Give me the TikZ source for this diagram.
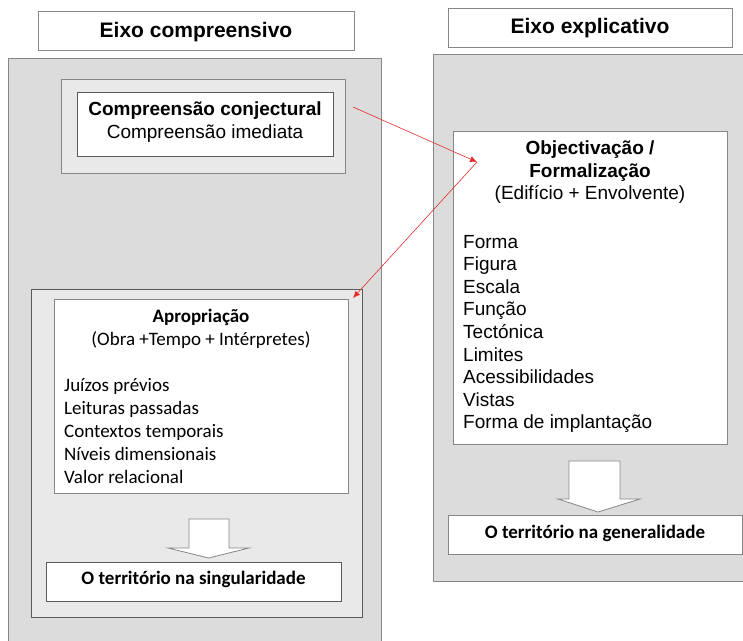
\documentclass[tikz,border=0pt]{standalone}
\usepackage{fontspec}
\setmainfont{Liberation Sans}
\newfontfamily\calib{Carlito}
\usetikzlibrary{arrows.meta}
\definecolor{panelgray}{RGB}{220,220,220}
\definecolor{lightbox}{RGB}{233,233,233}
\definecolor{bordergray}{RGB}{135,135,135}
\definecolor{darkborder}{RGB}{90,90,90}
\definecolor{redline}{RGB}{228,45,45}
\begin{document}
\begin{tikzpicture}[x=1pt,y=-1pt,
  panel/.style={draw=bordergray,fill=panelgray,line width=0.8pt},
  softbox/.style={draw=bordergray,fill=lightbox,line width=0.8pt},
  whitebox/.style={draw=bordergray,fill=white,line width=0.8pt},
  darkbox/.style={draw=darkborder,fill=white,line width=0.9pt},
  hdr/.style={font=\fontsize{21}{25}\selectfont\bfseries,inner sep=0pt,anchor=base},
  ar/.style={font=\fontsize{19}{23}\selectfont,inner sep=0pt},
  cb/.style={font=\calib\fontsize{19}{23}\selectfont,inner sep=0pt},
  blockarrow/.style={draw=bordergray,fill=white,line width=0.8pt,line join=miter},
  redarrow/.style={draw=redline,line width=0.6pt,-{Latex[length=7pt,width=6pt]}}
]
\useasboundingbox (0,0) rectangle (743,640);
% headers
\draw[whitebox] (38,11) rectangle (354,50);
\node[hdr] (h1) at (196,37.5) {Eixo compreensivo};
\draw[whitebox] (448,8) rectangle (732,47);
\node[hdr] (h2) at (590,33.3) {Eixo explicativo};
% left panel
\draw[panel] (8,58) rectangle (381,660);
\draw[softbox] (61,79) rectangle (345,173);
\draw[darkbox] (77,92) rectangle (333,156);
\node[ar,anchor=base,font=\fontsize{19}{23}\selectfont\bfseries] (cc) at (205,115) {Compreensão conjectural};
\node[ar,anchor=base] (ci) at (205,138.5) {Compreensão imediata};
\draw[softbox,draw=darkborder] (31,289) rectangle (362,617);
\draw[whitebox] (54,299) rectangle (348,493);
\node[cb,anchor=base,font=\calib\fontsize{19}{23}\selectfont\bfseries] (ap) at (201,322) {Apropriação};
\node[cb,anchor=base] (ot) at (201,345) {(Obra +Tempo + Intérpretes)};
\node[cb,anchor=base west] (l1) at (64,391) {Juízos prévios};
\node[cb,anchor=base west] (l2) at (64,414) {Leituras passadas};
\node[cb,anchor=base west] (l3) at (64,437) {Contextos temporais};
\node[cb,anchor=base west] (l4) at (64,460) {Níveis dimensionais};
\node[cb,anchor=base west] (l5) at (64,483) {Valor relacional};
\draw[blockarrow] (189,519) -- (229,519) -- (229,548) -- (249,548) -- (208.5,558) -- (168,548) -- (189,548) -- cycle;
\draw[darkbox] (46,562) rectangle (341,601);
\node[cb,anchor=base,font=\calib\fontsize{19}{23}\selectfont\bfseries] (sg) at (193.5,584) {O território na singularidade};
% right panel
\draw[panel] (433,54) rectangle (760,581);
\draw[whitebox] (453,131) rectangle (727,444);
\node[ar,anchor=base,font=\fontsize{19}{23}\selectfont\bfseries] (ob) at (590,154) {Objectivação /};
\node[ar,anchor=base,font=\fontsize{19}{23}\selectfont\bfseries] (fo) at (590,177.5) {Formalização};
\node[ar,anchor=base] (ed) at (590,199) {(Edifício + Envolvente)};
\node[ar,anchor=base west] (r1) at (463,248) {Forma};
\node[ar,anchor=base west] (r2) at (463,270.6) {Figura};
\node[ar,anchor=base west] (r3) at (463,293.2) {Escala};
\node[ar,anchor=base west] (r4) at (463,315.8) {Função};
\node[ar,anchor=base west] (r5) at (463,338.4) {Tectónica};
\node[ar,anchor=base west] (r6) at (463,361) {Limites};
\node[ar,anchor=base west] (r7) at (463,383.6) {Acessibilidades};
\node[ar,anchor=base west] (r8) at (463,406.2) {Vistas};
\node[ar,anchor=base west] (r9) at (463,428.8) {Forma de implantação};
\draw[blockarrow] (569,461) -- (620,461) -- (620,499) -- (640,499) -- (598,512) -- (558,499) -- (569,499) -- cycle;
\draw[whitebox] (448,515) rectangle (742,554);
\node[cb,anchor=base,font=\calib\fontsize{19}{23}\selectfont\bfseries] (gn) at (595,538) {O território na generalidade};
% red connectors
\coordinate (p1) at (353,107);
\coordinate (p2) at (477,162);
\coordinate (p3) at (353,298);
\draw[redarrow] (p1) -- (p2);
\draw[redarrow] (p2) -- (p3);
\end{tikzpicture}
\end{document}
